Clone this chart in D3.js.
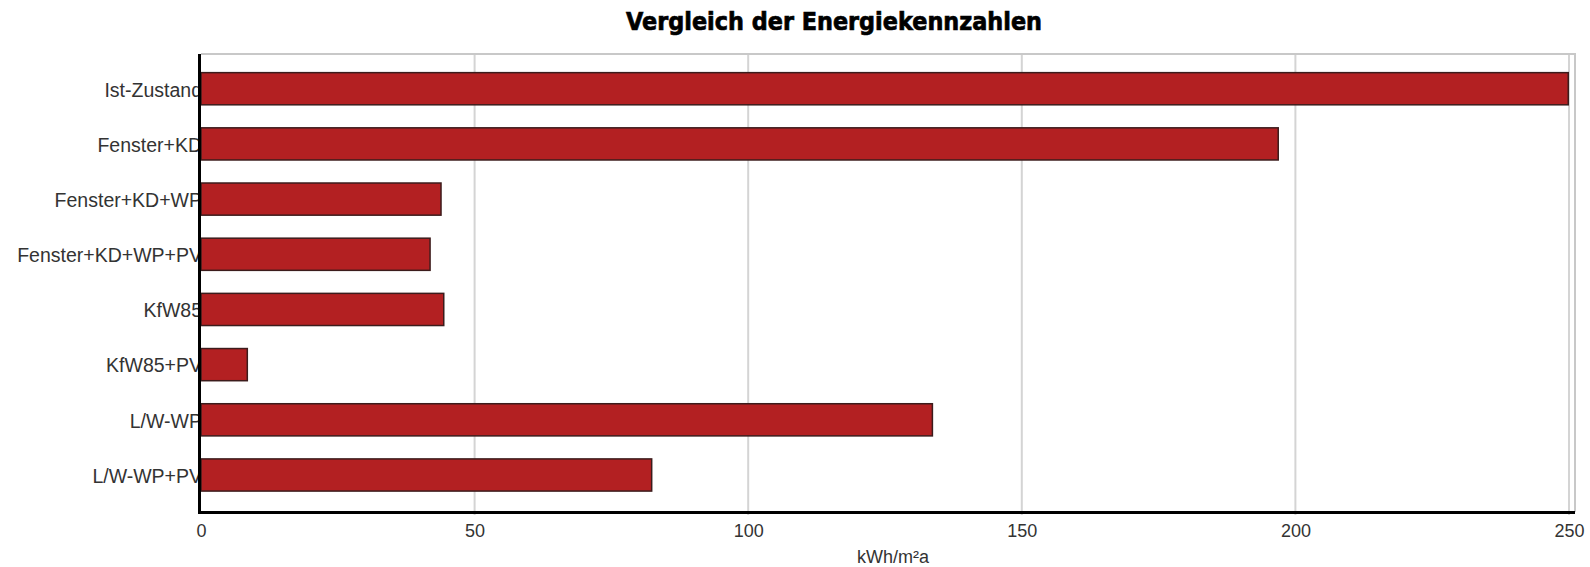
<!DOCTYPE html>
<html>
<head>
<meta charset="utf-8">
<script src="https://cdn.jsdelivr.net/npm/d3@7"></script>
<style>
  html, body { margin: 0; padding: 0; background: #fff; }
  svg { display: block; }
</style>
</head>
<body>
<div id="chart"></div>
<script>
// data
const categories = ["Ist-Zustand", "Fenster+KD", "Fenster+KD+WP", "Fenster+KD+WP+PV",
                    "KfW85", "KfW85+PV", "L/W-WP", "L/W-WP+PV"];
const values = [250, 197, 44, 42, 44.5, 8.6, 133.8, 82.5];
const xTicks = [0, 50, 100, 150, 200, 250];
const chartTitle = "Vergleich der Energiekennzahlen";
const xTitle = "kWh/m²a";

const width = 1590, height = 567;
const plot = { left: 201, right: 1575, top: 54, bottom: 512 };

const svg = d3.select("#chart").append("svg")
    .attr("width", width)
    .attr("height", height);

svg.append("rect")
    .attr("width", width)
    .attr("height", height)
    .attr("fill", "white");

// scale: 0..250 spans 201..1569, frame runs a little past 250
const x = d3.scaleLinear()
    .domain([0, 250])
    .range([plot.left, 1569]);

const y = d3.scaleBand()
    .domain(categories)
    .range([plot.top, plot.bottom])
    .paddingInner(0.39)
    .paddingOuter(0.345)
    .align(0.47);

// title - heavy, condensed look
svg.append("text")
    .attr("x", 834)
    .attr("y", 30)
    .attr("text-anchor", "middle")
    .attr("textLength", 416)
    .attr("lengthAdjust", "spacingAndGlyphs")
    .style("font-family", "'DejaVu Sans', sans-serif")
    .style("font-weight", "bold")
    .style("font-size", "24px")
    .style("fill", "#000")
    .style("stroke", "#000")
    .style("stroke-width", "0.7px")
    .text(chartTitle);

// grid lines
svg.append("g")
    .selectAll("line")
    .data(xTicks.filter(d => d > 0))
    .enter().append("line")
    .attr("x1", d => x(d))
    .attr("x2", d => x(d))
    .attr("y1", plot.top)
    .attr("y2", plot.bottom + 3)
    .style("stroke", "#d4d4d4")
    .style("stroke-width", "2px");

// frame top and right (grey)
svg.append("path")
    .attr("d", `M${plot.left},${plot.top}H${plot.right}V${plot.bottom}`)
    .style("fill", "none")
    .style("stroke", "#c8c8c8")
    .style("stroke-width", "2px");

// category labels
svg.append("g")
    .selectAll("text")
    .data(categories)
    .enter().append("text")
    .attr("x", plot.left + 1)
    .attr("y", d => y(d) + y.bandwidth() / 2)
    .attr("dy", "0.4em")
    .attr("text-anchor", "end")
    .style("font-family", "'Liberation Sans', Arial, sans-serif")
    .style("font-size", "19.5px")
    .style("fill", "#333")
    .text(d => d);

// bars
svg.append("g")
    .selectAll("rect")
    .data(categories.map((c, i) => ({ cat: c, val: values[i] })))
    .enter().append("rect")
    .attr("x", x(0))
    .attr("y", d => y(d.cat) + 0.75)
    .attr("width", d => x(d.val) - x(0) - 0.75)
    .attr("height", y.bandwidth() - 1.5)
    .style("fill", "#b32022")
    .style("stroke", "#3c1c1c")
    .style("stroke-width", "1.5px");

// axes (black, thick)
svg.append("line")
    .attr("x1", plot.left - 1.5).attr("x2", plot.left - 1.5)
    .attr("y1", plot.top).attr("y2", plot.bottom + 2)
    .style("stroke", "#000")
    .style("stroke-width", "3px");

svg.append("line")
    .attr("x1", plot.left - 3).attr("x2", plot.right)
    .attr("y1", plot.bottom + 0.5).attr("y2", plot.bottom + 0.5)
    .style("stroke", "#000")
    .style("stroke-width", "3px");

// tick labels
const xAxis = d3.axisBottom(x)
    .tickValues(xTicks)
    .tickSize(0)
    .tickPadding(11);

const ax = svg.append("g")
    .attr("transform", `translate(0,${plot.bottom + 1})`)
    .call(xAxis);
ax.select(".domain").remove();
ax.selectAll("text")
    .style("font-family", "'Liberation Sans', Arial, sans-serif")
    .style("font-size", "18px")
    .style("fill", "#333");

// axis title
svg.append("text")
    .attr("x", 893)
    .attr("y", 563)
    .attr("text-anchor", "middle")
    .style("font-family", "'Liberation Sans', Arial, sans-serif")
    .style("font-size", "18px")
    .style("fill", "#333")
    .text(xTitle);
</script>
</body>
</html>
